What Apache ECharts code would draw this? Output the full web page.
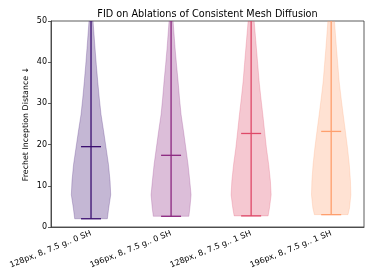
<!DOCTYPE html>
<html>
<head>
<meta charset="utf-8">
<script src="https://cdn.jsdelivr.net/npm/echarts@6/dist/echarts.min.js"></script>
<style>html,body{margin:0;padding:0;background:#fff}#c{width:374px;height:280px}</style>
</head>
<body>
<div id="c"></div>
<script>
var categories = ['128px, 8, 7.5 g.. 0 SH', '196px, 8, 7.5 g.. 0 SH', '128px, 8, 7.5 g.. 1 SH', '196px, 8, 7.5 g.. 1 SH'];
var positions = [1, 2, 3, 4];
var colors = ['#3b0f70', '#8c2981', '#de4968', '#fe9f6d'];
var mins = [2.0, 2.6, 2.7, 3.0];
var medians = [19.5, 17.4, 22.7, 23.2];
var maxes = [62, 62, 62, 62];
var levels = [4.6, 7.8, 11.1, 15.2, 19.2, 23.3, 27.3, 31.3, 35.3, 39.4, 43.4, 50, 56];
var minHalf = [0.204, 0.222, 0.212, 0.21];
var halfV1 = [0.221, 0.246, 0.238, 0.218, 0.188, 0.157, 0.125, 0.103, 0.084, 0.066, 0.05, 0.025, 0.012];
var halfV2 = [0.235, 0.25, 0.234, 0.212, 0.184, 0.155, 0.125, 0.105, 0.088, 0.068, 0.05, 0.025, 0.012];
var halfV3 = [0.229, 0.25, 0.241, 0.219, 0.191, 0.168, 0.146, 0.122, 0.1, 0.083, 0.066, 0.0375, 0.018];
var halfV4 = [0.229, 0.246, 0.241, 0.226, 0.204, 0.177, 0.15, 0.124, 0.1, 0.083, 0.066, 0.041, 0.02];
var halves = [halfV1, halfV2, halfV3, halfV4];
var capHalf = 0.125;

function rgba(hex, a) {
  var r = parseInt(hex.substr(1, 2), 16), g = parseInt(hex.substr(3, 2), 16), b = parseInt(hex.substr(5, 2), 16);
  return 'rgba(' + r + ',' + g + ',' + b + ',' + a + ')';
}

var chart = echarts.init(document.getElementById('c'), null, {renderer: 'canvas'});
var data = positions.map(function (p, i) { return [p, i]; });

chart.setOption({
  animation: false,
  graphic: [{
    type: 'text', x: 207.5, y: 14,
    style: {text: 'FID on Ablations of Consistent Mesh Diffusion', textAlign: 'center', textVerticalAlign: 'middle',
      fontFamily: 'DejaVu Sans', fontSize: 9.7, fill: '#000'}
  }],
  grid: {left: 51, right: 10, top: 21, bottom: 53, show: true, borderColor: '#333', borderWidth: 0.8, backgroundColor: 'transparent'},
  xAxis: {
    type: 'value', min: 0.5, max: 4.41,
    splitLine: {show: false},
    axisLine: {show: true, lineStyle: {color: '#333', width: 0.8}},
    axisTick: {show: false},
    axisLabel: {
      customValues: positions,
      rotate: 22, margin: 6,
      fontFamily: 'DejaVu Sans', fontSize: 8, color: '#000',
      formatter: function (v) { var i = positions.indexOf(v); return i >= 0 ? categories[i] : ''; }
    }
  },
  yAxis: {
    type: 'value', min: 0, max: 50, interval: 10,
    name: 'Frechet Inception Distance \u2193',
    nameLocation: 'middle', nameGap: 21, nameMoveOverlap: false,
    nameTextStyle: {fontFamily: 'DejaVu Sans', fontSize: 7.9, color: '#000'},
    splitLine: {show: false},
    axisLine: {show: true, lineStyle: {color: '#333', width: 0.8}},
    axisTick: {show: true, length: 3, lineStyle: {color: '#333', width: 0.8}},
    axisLabel: {fontFamily: 'DejaVu Sans', fontSize: 8, color: '#000', margin: 4}
  },
  series: [{
    type: 'custom',
    clip: true,
    data: data,
    renderItem: function (params, api) {
      var p = api.value(0), i = api.value(1);
      var h = halves[i];
      var ys = [mins[i]].concat(levels).concat([maxes[i]]);
      var hs = [minHalf[i]].concat(h).concat([0]);
      var right = [], left = [];
      for (var k = 0; k < ys.length; k++) {
        right.push(api.coord([p + hs[k], ys[k]]));
        left.unshift(api.coord([p - hs[k], ys[k]]));
      }
      var pts = right.concat(left);
      var c = colors[i];
      var lineStyle = {stroke: c, lineWidth: 1.3};
      var bot = api.coord([p, mins[i]]), top = api.coord([p, maxes[i]]);
      var m1 = api.coord([p - capHalf, medians[i]]), m2 = api.coord([p + capHalf, medians[i]]);
      var b1 = api.coord([p - capHalf, mins[i]]), b2 = api.coord([p + capHalf, mins[i]]);
      return {
        type: 'group',
        children: [
          {type: 'polygon', shape: {points: pts}, style: {fill: rgba(c, 0.3), stroke: rgba(c, 0.3), lineWidth: 0.8}},
          {type: 'line', shape: {x1: bot[0], y1: bot[1], x2: top[0], y2: top[1]}, style: lineStyle},
          {type: 'line', shape: {x1: m1[0], y1: m1[1], x2: m2[0], y2: m2[1]}, style: lineStyle},
          {type: 'line', shape: {x1: b1[0], y1: b1[1], x2: b2[0], y2: b2[1]}, style: lineStyle}
        ]
      };
    }
  }]
});
</script>
</body>
</html>
